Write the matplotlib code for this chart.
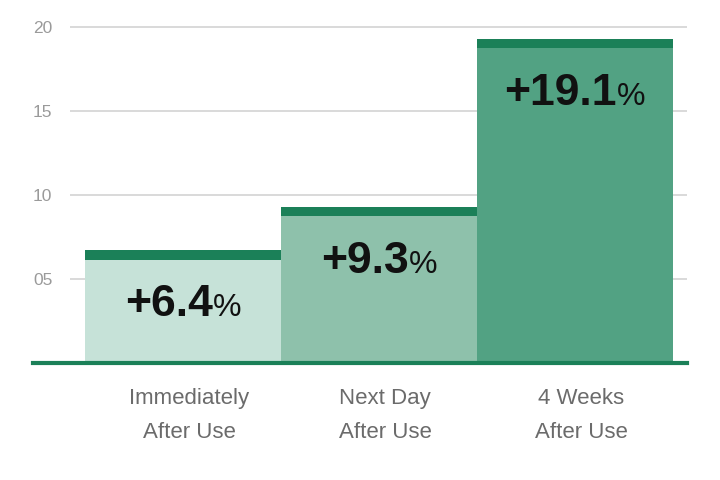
import matplotlib
matplotlib.use("Agg")
import matplotlib.pyplot as plt
import matplotlib.transforms as mtransforms

plt.rcParams['font.family'] = ['Liberation Sans', 'DejaVu Sans']

categories = ["Immediately\nAfter Use", "Next Day\nAfter Use", "4 Weeks\nAfter Use"]
bar_heights = [6.7, 9.3, 19.3]          # bar tops as drawn
label_values = ["+6.4", "+9.3", "+19.1"]  # printed gains
y_ticks = [5, 10, 15, 20]
y_tick_labels = ["05", "10", "15", "20"]

bar_colors = ["#c6e2d8", "#8ec1ab", "#52a283"]
cap_color = "#1b8058"
cap_h = 0.57

fig = plt.figure(figsize=(7.2, 4.8), dpi=100)
# axes placed in pixel terms: left 33, right 687, baseline 363, 21 units tall
W, H = 720, 480
ax = fig.add_axes([33 / W, (H - 363) / H, 654 / W, 21 * 16.8 / H])

x = list(range(len(categories)))
ax.bar(x, bar_heights, width=1.0, color=bar_colors, zorder=2)
ax.bar(x, [cap_h] * len(x), bottom=[h - cap_h for h in bar_heights],
       width=1.0, color=cap_color, zorder=3)

ax.set_xlim(-0.765, 2.571)
ax.set_ylim(0, 21)

# grid lines start a bit right of the tick labels
ax.hlines(y_ticks, 0.057, 1.0, transform=ax.get_yaxis_transform(),
          color="#d9d9d9", lw=1.4, zorder=1)
ax.axhline(0, color=cap_color, lw=3, zorder=4, clip_on=False)

for s in ax.spines.values():
    s.set_visible(False)

ax.set_yticks(y_ticks)
ax.set_yticklabels(y_tick_labels, fontsize=12.5, color="#9a9a9a")
ax.tick_params(axis='y', length=0, pad=0)
for lbl in ax.get_yticklabels():
    lbl.set_horizontalalignment('left')

ax.set_xticks(x)
ax.set_xticklabels(categories, fontsize=16, color="#6b6b6b", linespacing=1.83)
ax.tick_params(axis='x', length=0, pad=18)
shift = mtransforms.ScaledTranslation(6 / 100, 0, fig.dpi_scale_trans)
for lbl in ax.get_xticklabels():
    lbl.set_transform(lbl.get_transform() + shift)

# value labels: bold number + lighter percent sign, centred together
r = fig.canvas.get_renderer()
for xi, h, lab in zip(x, bar_heights, label_values):
    t1 = ax.text(0, 0, lab, fontsize=32, fontweight='bold', color="#111111")
    t2 = ax.text(0, 0, "%", fontsize=23, color="#111111")
    w1 = t1.get_window_extent(r).width
    w2 = t2.get_window_extent(r).width
    gap = 0
    total = w1 + gap + w2
    tr1 = mtransforms.offset_copy(ax.transData, fig, x=-total / 2, y=-66, units='dots')
    tr2 = mtransforms.offset_copy(ax.transData, fig, x=-total / 2 + w1 + gap, y=-66, units='dots')
    for t, tr in ((t1, tr1), (t2, tr2)):
        t.set_position((xi, h))
        t.set_transform(tr)
        t.set_ha('left')
        t.set_va('baseline')
        t.set_zorder(5)

fig.savefig("out.png", dpi=100)
